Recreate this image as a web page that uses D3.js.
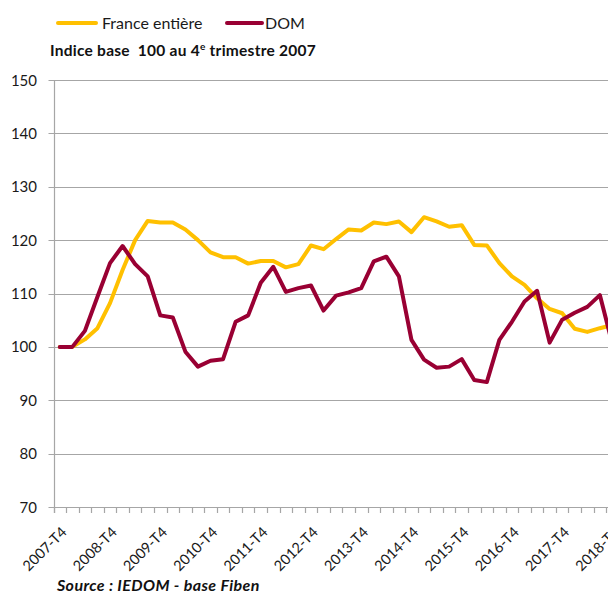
<!DOCTYPE html>
<html>
<head>
<meta charset="utf-8">
<script src="https://cdn.jsdelivr.net/npm/d3@7"></script>
<style>
  body { margin: 0; background: #fff; }
  svg { display: block; font-family: Lato, "Liberation Sans", sans-serif; }
</style>
</head>
<body>
<svg id="chart" width="608" height="594"></svg>
<script>
// quarters, 2007-T4 .. 2018-T4
var quarters = [
    "2007-T4",
    "2008-T1","2008-T2","2008-T3","2008-T4",
    "2009-T1","2009-T2","2009-T3","2009-T4",
    "2010-T1","2010-T2","2010-T3","2010-T4",
    "2011-T1","2011-T2","2011-T3","2011-T4",
    "2012-T1","2012-T2","2012-T3","2012-T4",
    "2013-T1","2013-T2","2013-T3","2013-T4",
    "2014-T1","2014-T2","2014-T3","2014-T4",
    "2015-T1","2015-T2","2015-T3","2015-T4",
    "2016-T1","2016-T2","2016-T3","2016-T4",
    "2017-T1","2017-T2","2017-T3","2017-T4",
    "2018-T1","2018-T2","2018-T3","2018-T4"
];
var tickLabels = ["2007-T4","2008-T4","2009-T4","2010-T4","2011-T4","2012-T4",
    "2013-T4","2014-T4","2015-T4","2016-T4","2017-T4","2018-T4"];

var franceValues = [
    100.0, 100.0, 101.4, 103.5, 108.2, 114.4, 120.0, 123.6, 123.3, 123.3,
    122.0, 120.0, 117.7, 116.8, 116.8, 115.6, 116.1, 116.1, 114.9, 115.5,
    119.0, 118.3, 120.2, 122.0, 121.8, 123.3, 123.0, 123.5, 121.5, 124.3,
    123.5, 122.5, 122.8, 119.1, 119.0, 115.7, 113.2, 111.6, 109.1, 107.1,
    106.3, 103.4, 102.8, 103.5, 104.1
];
var domValues = [
    100.0, 100.0, 103.0, 109.4, 115.7, 118.9, 115.5, 113.2, 105.9, 105.5,
     99.1,  96.3,  97.4,  97.7, 104.7, 105.9, 112.0, 115.0, 110.3, 111.0,
    111.5, 106.8, 109.6, 110.2, 111.0, 116.0, 116.9, 113.2, 101.3,  97.6,
     96.1,  96.3,  97.7,  93.8,  93.4, 101.3, 104.7, 108.5, 110.5, 100.8,
    105.1, 106.4, 107.5, 109.7, 100.5
];
var yTicks = [70, 80, 90, 100, 110, 120, 130, 140, 150];

var seriesNames = ["France entière", "DOM"];
var colors = ["#FFC000", "#990033"];

var svg = d3.select("#chart");
var margin = {top: 80, left: 53.5, bottom: 507};
var bandW = 12.56;

var x = d3.scaleBand()
    .domain(quarters)
    .range([margin.left, margin.left + bandW * quarters.length])
    .padding(0);
var y = d3.scaleLinear()
    .domain([70, 150])
    .range([margin.bottom, margin.top]);

var gridColor = "#a6a6a6";

// gridlines
svg.append("g").selectAll("line")
    .data(yTicks)
    .enter().append("line")
    .attr("x1", margin.left - 5)
    .attr("x2", x.range()[1])
    .attr("y1", d => Math.round(y(d)) + 0.5)
    .attr("y2", d => Math.round(y(d)) + 0.5)
    .attr("stroke", gridColor)
    .attr("stroke-width", 1.2);

// y axis line
svg.append("line")
    .attr("x1", Math.round(margin.left) + 0.5)
    .attr("x2", Math.round(margin.left) + 0.5)
    .attr("y1", y(150))
    .attr("y2", y(70) + 6)
    .attr("stroke", gridColor)
    .attr("stroke-width", 1.2);

// y labels
svg.append("g").selectAll("text")
    .data(yTicks)
    .enter().append("text")
    .attr("x", 37)
    .attr("y", d => y(d) + 5.5)
    .attr("text-anchor", "end")
    .attr("font-size", "15px")
    .attr("fill", "#1a1a1a")
    .text(d => d);

// x ticks at category boundaries
var boundaries = quarters.map(q => x(q)).concat([x.range()[1]]);
svg.append("g").selectAll("line")
    .data(boundaries)
    .enter().append("line")
    .attr("x1", d => Math.round(d) + 0.5)
    .attr("x2", d => Math.round(d) + 0.5)
    .attr("y1", y(70))
    .attr("y2", y(70) + 6)
    .attr("stroke", gridColor)
    .attr("stroke-width", 1.2);

// x labels
svg.append("g").selectAll("text")
    .data(tickLabels)
    .enter().append("text")
    .attr("transform", d => "translate(" + (x(d) + x.bandwidth() / 2 + 8) + "," + (y(70) + 26) + ") rotate(-45)")
    .attr("text-anchor", "end")
    .attr("font-size", "14.5px")
    .attr("fill", "#1a1a1a")
    .text(d => d);

// lines
var line = d3.line()
    .x((d, i) => x(quarters[i]) + x.bandwidth() / 2)
    .y(d => y(d));

[franceValues, domValues].forEach(function (vals, k) {
    svg.append("path")
        .datum(vals)
        .attr("d", line)
        .attr("fill", "none")
        .attr("stroke", colors[k])
        .attr("stroke-width", 4)
        .attr("stroke-linejoin", "round")
        .attr("stroke-linecap", "round");
});

// legend
var legendX = [58, 227];
var legendTextX = [102, 265];
var legendLen = [38, 35];
seriesNames.forEach(function (name, k) {
    svg.append("line")
        .attr("x1", legendX[k])
        .attr("x2", legendX[k] + legendLen[k])
        .attr("y1", 23)
        .attr("y2", 23)
        .attr("stroke", colors[k])
        .attr("stroke-width", 4)
        .attr("stroke-linecap", "round");
    svg.append("text")
        .attr("x", legendTextX[k])
        .attr("y", 28.5)
        .attr("font-size", "16px")
        .attr("fill", "#1a1a1a")
        .text(name);
});

// title
var title = svg.append("text")
    .attr("x", 50)
    .attr("y", 56)
    .attr("font-size", "15.5px")
    .attr("font-weight", "bold")
    .attr("letter-spacing", "0.25px")
    .attr("fill", "#111")
    .attr("xml:space", "preserve");
title.append("tspan").text("Indice base  100 au 4");
title.append("tspan").attr("font-size", "10px").attr("dy", -6).text("e");
title.append("tspan").attr("dy", 6).text(" trimestre 2007");

// source
svg.append("text")
    .attr("x", 57)
    .attr("y", 591)
    .attr("font-size", "16px")
    .attr("font-weight", "bold")
    .attr("font-style", "italic")
    .attr("letter-spacing", "0.4px")
    .attr("fill", "#111")
    .text("Source : IEDOM - base Fiben");
</script>
</body>
</html>
